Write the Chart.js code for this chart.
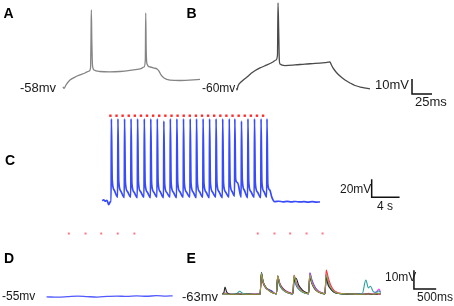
<!DOCTYPE html>
<html>
<head>
<meta charset="utf-8">
<script src="https://cdn.jsdelivr.net/npm/chart.js@4.4.1/dist/chart.umd.min.js"></script>
<style>
html, body { margin: 0; padding: 0; background: #fff; }
#fig { position: relative; width: 454px; height: 306px; overflow: hidden; font-family: "Liberation Sans", Arial, sans-serif; color: #1a1a1a; }
#fig canvas { position: absolute; left: 0; top: 0; }
.lbl { position: absolute; white-space: nowrap; line-height: 16px; }
.pl { font-weight: bold; font-size: 14px; color: #000; }
</style>
</head>
<body>
<div id="fig">
  <canvas id="cA" width="454" height="306"></canvas>
  <canvas id="cB" width="454" height="306"></canvas>
  <canvas id="cC" width="454" height="306"></canvas>
  <canvas id="cD" width="454" height="306"></canvas>
  <canvas id="cE" width="454" height="306"></canvas>

  <div class="lbl pl" style="left:3.5px;top:5px">A</div>
  <div class="lbl pl" style="left:186.5px;top:5px">B</div>
  <div class="lbl pl" style="left:5px;top:152px">C</div>
  <div class="lbl pl" style="left:4px;top:249.5px">D</div>
  <div class="lbl pl" style="left:186.5px;top:249.5px">E</div>

  <div class="lbl" style="left:20px;top:80px;font-size:13px">-58mv</div>
  <div class="lbl" style="left:202px;top:80px;font-size:12px">-60mv</div>
  <div class="lbl" style="left:375px;top:77px;font-size:13px">10mV</div>
  <div class="lbl" style="left:415px;top:94px;font-size:13px">25ms</div>
  <div class="lbl" style="left:340px;top:181px;font-size:12px">20mV</div>
  <div class="lbl" style="left:377px;top:197.5px;font-size:12px">4 s</div>
  <div class="lbl" style="left:2px;top:288px;font-size:12px">-55mv</div>
  <div class="lbl" style="left:182px;top:289px;font-size:13px">-63mv</div>
  <div class="lbl" style="left:385px;top:269px;font-size:12px">10mV</div>
  <div class="lbl" style="left:417px;top:289px;font-size:12px">500ms</div>
</div>

<script>
// ---- A: single trace, ms / mV
var aTime = [0, 1.25, 3.75, 8.75, 15, 21.25, 27.5, 32.5, 34.4, 35, 35.4, 36, 36.9, 38.75, 46.25, 58.75, 71.25, 83.75, 96.25, 101.25, 102.9, 103.4, 104, 105, 108.75, 113.75, 117.5, 120, 122.5, 126.25, 133.75, 146.25, 171.25];
var aVolt = [-57.3, -58.3, -56, -52.7, -50.7, -49.3, -48, -46.7, -44.7, -26, -6, -26, -43.3, -46, -47, -47.3, -47, -46.3, -45.3, -44, -39.3, -8, -32.7, -42, -44, -44.7, -45.3, -46.7, -49.3, -51.3, -52.7, -53, -52.3];

// ---- B: single trace, ms / mV
var bTime = [-0.6, 0, 1.25, 5, 12.5, 20, 28.75, 37.5, 45, 48.75, 50.6, 51.25, 52.1, 52.9, 53.75, 60, 72.5, 85, 97.5, 110, 116.25, 117.5, 120, 123.75, 128.75, 135, 141.25, 147.5, 156.25, 166.25];
var bVolt = [-58.7, -60, -57.3, -54.7, -51.3, -48, -45.3, -43.3, -41.3, -40, -36.7, -2, -20, -40, -42.7, -43.7, -43.3, -42.7, -42.3, -41.7, -41.3, -42.7, -45.3, -48, -50.7, -53.3, -55.3, -57, -58.3, -59.3];

// ---- C: spike train, s / mV
var cStim = [-0.14, 0.74, 1.61, 2.49, 3.36, 4.24, 5.11, 5.99, 6.86, 7.74, 8.62, 9.49, 10.37, 11.24, 12.12, 12.99, 13.87, 14.74, 15.62, 16.49, 17.37, 18.25, 19.12, 20.0, 20.87, 21.75];
var cStimLevel = 35.4;
var cHeadT = [-1.31, -1.1, -0.9, -0.63, -0.38, -0.14];
var cHeadV = [-60, -58.9, -60.5, -59.5, -64.4, -61];
var spikeT = [0, 0.94, 1.89, 2.82, 3.76, 4.72, 5.65, 6.58, 7.52, 8.45, 9.39, 10.34, 11.3, 12.21, 13.15, 14.08, 15.01, 15.96, 16.9, 17.7, 18.65, 19.58, 20.52, 21.46, 22.31];
var spikePeak = [31.8, 31.8, 31.8, 31.8, 31.8, 31.8, 31.8, 31.8, 29.3, 31.8, 31.8, 31.8, 31.8, 31.8, 31.8, 31.8, 31.8, 31.8, 31.8, 31.8, 29.3, 31.8, 31.8, 31.8, 31.8];
var spikeBase = [-61, -56, -56.5, -56, -56.5, -56, -56.5, -56, -56.5, -56, -56.5, -56, -56, -56.5, -56, -56.5, -56, -56.5, -56, -55, -56, -56.5, -56, -56.5, -56];
var spikeAhp = [-36, -38, -39, -40, -39, -40, -40, -39, -41, -40, -39, -40, -40, -39, -40, -40, -39, -40, -39, -36, -36, -39, -40, -39, -41];
var spikeMid = [-48, -49, -49.5, -50, -49.5, -50, -50, -49.5, -50.5, -50, -49.5, -50, -50, -49.5, -50, -50, -49.5, -50, -49.5, -40, -48, -49.5, -50, -49.5, -48];
var cTailT = [23.0, 23.4, 24.0, 24.6, 25.2, 25.8, 26.4, 27.0, 27.6, 28.2, 28.8, 29.4, 29.9];
var cTailV = [-56, -61, -60.6, -61.2, -60.8, -61.3, -60.9, -61.4, -61.0, -61.5, -61.1, -61.6, -61.3];

// ---- D: flat response, ms / mV
var dTime = [0, 258, 479, 700, 920, 1141, 1362, 1583, 1804, 2024, 2245, 2466, 2687, 2834];
var dVolt = [-55, -55.2, -54.9, -54.6, -54.9, -55.1, -54.8, -54.6, -54.8, -54.5, -54.7, -54.4, -54.6, -54.5];
var dStim = [501, 876, 1229, 1600, 1974];
var dStimLevel = -21.5;

// ---- E: overlaid sweeps, ms / mV
var eTime = [0, 40, 66, 100, 160, 250, 330, 397, 460, 600, 750, 854, 883, 920, 980, 1060, 1126, 1180, 1221, 1250, 1290, 1350, 1430, 1520, 1589, 1618, 1662, 1720, 1800, 1890, 1943, 1972, 2015, 2075, 2150, 2250, 2311, 2340, 2384, 2440, 2520, 2620, 2800, 3000, 3150, 3230, 3290, 3333, 3400, 3470, 3525, 3560];
var eBlack = [-62.5, -62, -59.1, -61.5, -62.7, -63, -62.8, -62.7, -63, -62.8, -63, -62.8, -51.5, -56, -59, -60.8, -62, -62.5, -62.6, -53.5, -57, -59.5, -61.2, -62.2, -62.5, -56.5, -54.4, -58, -60.5, -62, -62.4, -54, -57, -59.8, -61.5, -62.4, -62.6, -54, -58.2, -60, -61.8, -62.5, -62.8, -62.7, -63, -62.8, -62.6, -62.8, -63, -62.7, -62.5, -62.7];
var eBlue = [-63, -62.8, -62.5, -62.8, -63, -62.7, -63, -62.8, -62.6, -63, -62.8, -63, -52, -56.5, -59.5, -60.5, -61.3, -62.4, -62.7, -53.2, -57.5, -60, -61.5, -62.3, -62.7, -53.5, -58, -60, -61.5, -62.4, -62.7, -51.5, -55, -58.5, -61, -62.2, -62.6, -52.5, -57, -60, -61.8, -62.5, -62.7, -63, -62.8, -62.6, -62.8, -63, -62.7, -62.8, -62.4, -62.8];
var eRed = [-62.8, -63, -62.7, -62.9, -62.8, -63, -62.7, -62.9, -63, -62.8, -62.9, -62.8, -52.5, -57, -59.5, -61, -62, -62.5, -62.7, -53.5, -57.5, -60, -61.5, -62.4, -62.7, -53, -57, -59.5, -61.5, -62.4, -62.7, -52.5, -56.5, -59.5, -61.5, -62.4, -62.7, -50, -54, -58, -61, -62.2, -62.7, -62.9, -62.8, -63, -62.8, -62.9, -62.7, -63, -62.8, -62.9];
var eMagenta = [-62.7, -62.5, -62.2, -62.5, -62.8, -62.6, -62.8, -62.5, -62.7, -62.9, -62.6, -62.7, -52.2, -56.2, -59, -60.8, -61.8, -62.2, -62.5, -53.2, -56.5, -59.2, -61, -62, -62.5, -53, -56.5, -59, -61, -62.2, -62.5, -52, -56, -59, -61, -62.2, -62.5, -52, -55.5, -59, -61.2, -62.2, -62.6, -62.8, -62.5, -62.7, -62.4, -62.6, -62.5, -61.5, -60.1, -61.8];
var eTeal = [-62.9, -62.8, -62.6, -62.8, -62.9, -62.7, -62.5, -61.3, -62.4, -62.8, -62.9, -62.8, -51.2, -56, -59, -61, -62, -62.5, -62.7, -54, -58, -60.2, -61.6, -62.4, -62.7, -53.2, -57.5, -60, -61.7, -62.5, -62.7, -53, -57, -59.8, -61.5, -62.4, -62.7, -53, -57, -59.8, -61.7, -62.5, -62.8, -62.7, -62.5, -55.4, -59.5, -58.6, -61.5, -61.8, -61, -62];
var eOlive = [-62.7, -62.8, -62.4, -62.7, -62.9, -62.8, -62.9, -62.7, -62.8, -62.9, -62.8, -62.9, -51.8, -56.2, -59.2, -61, -62, -62.5, -62.7, -53, -57, -59.8, -61.4, -62.3, -62.6, -52.7, -57, -59.5, -61.4, -62.3, -62.6, -52.5, -56.5, -59.4, -61.4, -62.3, -62.6, -52.2, -56, -59.2, -61.4, -62.4, -62.7, -62.8, -62.9, -62.7, -62.8, -62.7, -62.8, -62.6, -62.5, -62.7];
var eStim = [801, 1177, 1530, 1898, 2258];
var eStimLevel = -30.7;

// scale bar sizes
var barAB = { dt: 25, dv: 10 };
var barC = { dt: 4, dv: 20 };
var barE = { dt: 500, dv: 10 };

// ---- layout: where each panel's zero sits on the page and how many px per unit
var W = 454, H = 306;
var frames = {
    A: { x0: 63, y0: 88, t0: 0, v0: -58, px: 0.8, py: 1.5 },
    B: { x0: 237, y0: 90, t0: 0, v0: -60, px: 0.8, py: 1.5 },
    C: { x0: 109.3, y0: 202, t0: 0, v0: -60, px: 7.1, py: 0.915 },
    D: { x0: 43.3, y0: 300.7, t0: 0, v0: -55, px: 0.0453, py: 1.94 },
    E: { x0: 222, y0: 298.3, t0: 0, v0: -63, px: 0.0453, py: 1.94 }
};
var barPos = {
    AB: { t: 218.75, v: -62.7 },
    C: { t: 37.32, v: -56 },
    E: { t: 4311, v: -60.1 }
};

function pts(ts, vs)
{
    return ts.map(function(t, i) { return { x: t, y: vs[i] }; });
}

function trace(ts, vs, color, width)
{
    return {
        data: pts(ts, vs),
        borderColor: color,
        borderWidth: width,
        cubicInterpolationMode: 'monotone',
        pointRadius: 0,
        fill: false,
        clip: false
    };
}

function dots(ts, level, color, r)
{
    return {
        data: ts.map(function(t) { return { x: t, y: level }; }),
        showLine: false,
        pointStyle: 'rect',
        pointRadius: r,
        pointBackgroundColor: color,
        pointBorderWidth: 0,
        clip: false
    };
}

function scaleBar(pos, size)
{
    return {
        data: [{ x: pos.t, y: pos.v + size.dv }, { x: pos.t, y: pos.v }, { x: pos.t + size.dt, y: pos.v }],
        borderColor: '#111',
        borderWidth: 1.5,
        borderJoinStyle: 'miter',
        tension: 0,
        pointRadius: 0,
        clip: false
    };
}

function panel(id, f, datasets)
{
    var xmin = f.t0 - f.x0 / f.px;
    var ymax = f.v0 + f.y0 / f.py;
    new Chart(document.getElementById(id), {
        type: 'line',
        data: { datasets: datasets },
        options: {
            responsive: false,
            animation: false,
            events: [],
            layout: { padding: 0 },
            plugins: { legend: { display: false }, tooltip: { enabled: false } },
            scales: {
                x: { type: 'linear', display: false, min: xmin, max: xmin + W / f.px },
                y: { type: 'linear', display: false, min: ymax - H / f.py, max: ymax }
            }
        }
    });
}

// stitch the per-spike readings into one sweep
function spikeTrain()
{
    var ts = cHeadT.slice();
    var vs = cHeadV.slice();
    for (var i = 0; i < spikeT.length; i++)
    {
        ts.push(spikeT[i] - 0.04, spikeT[i], spikeT[i] + 0.12, spikeT[i] + 0.4);
        vs.push(spikeBase[i], spikePeak[i], spikeAhp[i], spikeMid[i]);
    }
    return { t: ts.concat(cTailT), v: vs.concat(cTailV) };
}

panel('cA', frames.A, [trace(aTime, aVolt, '#858585', 1.3)]);

panel('cB', frames.B, [
    trace(bTime, bVolt, '#4a4a4a', 1.3),
    scaleBar(barPos.AB, barAB)
]);

var sweep = spikeTrain();
panel('cC', frames.C, [
    dots(cStim, cStimLevel, '#ff2a2a', 1.7),
    trace(sweep.t, sweep.v, 'rgb(55,75,250)', 1.7),
    scaleBar(barPos.C, barC)
]);

panel('cD', frames.D, [
    dots(dStim, dStimLevel, 'rgba(255,70,90,0.75)', 1.4),
    trace(dTime, dVolt, 'rgb(80,90,255)', 1.3)
]);

// first dataset ends up on top
panel('cE', frames.E, [
    dots(eStim, eStimLevel, 'rgba(255,70,90,0.75)', 1.4),
    trace(eTime, eOlive, '#a0a040', 1.1),
    trace(eTime, eBlack, '#222222', 1.1),
    trace(eTime, eTeal, '#2aa0a0', 1.1),
    trace(eTime, eMagenta, '#ff33ff', 1.1),
    trace(eTime, eBlue, '#3333ff', 1.1),
    trace(eTime, eRed, '#ff3030', 1.1),
    scaleBar(barPos.E, barE)
]);
</script>
</body>
</html>
